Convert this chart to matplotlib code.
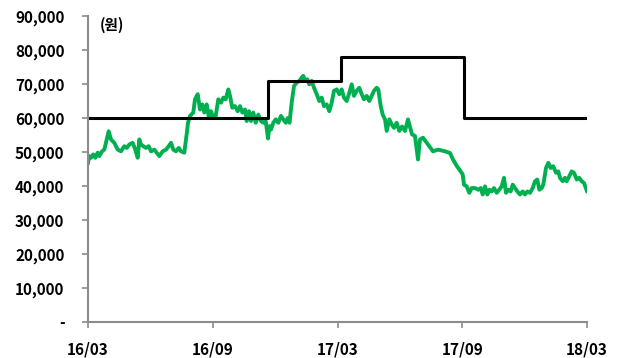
import matplotlib
matplotlib.use("Agg")
import matplotlib.pyplot as plt
from matplotlib.ticker import FuncFormatter

plt.rcParams['font.family'] = ['Noto Sans CJK KR', 'DejaVu Sans']

# time axis (pixel column of each reading; 124.75 px per 6 months, 16/03 at 88)
time_px = [88, 89.3, 91, 93.3, 95.3, 97.7, 99.3, 102, 104.3, 106.7, 108.7, 111, 114.3, 117.7, 121, 124.3, 126.7,
           129.3, 132.7, 135.3, 137.7, 139.3, 141, 143.3, 146, 148.7, 151, 154.3, 156.7, 159.3, 162.7, 166, 168.7,
           171, 173.3, 176, 178.7, 181, 184.3, 185.5, 187, 188, 190, 193.3, 195, 197.7, 200, 202.3, 204.3, 206.7,
           209, 211, 213.3, 215.7, 218.3, 221, 223.3, 225.7, 228.3, 230, 232.3, 235, 237.7, 240, 242.3, 245, 246.7,
           249, 251, 253.3, 255.7, 258.3, 261, 263.3, 265.7, 268, 269.5, 271, 273.3, 275.7, 278.3, 281, 283.3,
           285.7, 287.7, 289.5, 291.7, 294, 296.7, 299.3, 301.7, 303.3, 305, 307.3, 309.3, 311.7, 314, 316.7,
           319.3, 321.7, 324, 326.7, 329.3, 331.7, 334, 336.7, 339.3, 341.7, 344, 346.7, 349.3, 351.7, 354,
           356.7, 359.3, 361.7, 364, 366.7, 369.3, 371.7, 374, 376.7, 378.3, 380.7, 382.7, 385, 386.7, 389.3,
           391.7, 394, 396.7, 399.3, 402, 405, 408, 412, 415, 418, 420, 423, 428, 433, 438, 445, 450, 453, 457,
           459, 462.7, 464, 466.7, 469.3, 471.7, 475, 478.3, 480.7, 482.7, 485, 487.3, 489.3, 491.7, 494, 496.7,
           499.3, 501.7, 504, 506, 508.3, 510.7, 512.7, 515, 517.3, 520, 522.7, 525, 527.3, 530, 532.7, 535,
           537.3, 539.3, 541.7, 543.3, 546, 548.3, 550.7, 553.3, 556, 558.3, 560, 562.7, 565, 566.7, 569.3,
           571.7, 574, 576.7, 579.3, 581.7, 584, 587]
price_k = [46.8, 48.8, 48.3, 49.3, 48.3, 49.8, 48.8, 50.2, 50.7, 53.7, 56.1, 53.7, 52.7, 50.7, 50.2, 51.7, 51.2,
           52.2, 52.7, 50.7, 48.3, 53.7, 52.2, 51.7, 51.2, 51.7, 50.2, 50.7, 49.8, 48.8, 50.2, 50.7, 51.7,
           52.7, 50.7, 50.2, 51.2, 50.2, 49.8, 52.5, 56.0, 58.6, 60.6, 61.6, 65.5, 67.0, 62.5, 64.0, 61.6, 64.0,
           60.0, 62.0, 60.0, 60.6, 65.5, 64.5, 66.0, 65.5, 68.4, 66.5, 63.0, 63.5, 62.0, 63.5, 61.6, 62.5, 59.1,
           62.0, 59.1, 61.6, 58.6, 61.0, 59.1, 58.6, 59.1, 54.0, 57.6, 56.6, 58.6, 59.6, 58.6, 60.6, 59.6,
           58.6, 60.0, 58.6, 64.5, 69.4, 70.4, 70.9, 71.9, 72.4, 70.9, 71.4, 69.9, 70.9, 68.9, 67.0,
           65.0, 66.0, 63.5, 64.0, 62.0, 64.5, 68.0, 68.4, 67.0, 68.4, 66.0, 65.0, 67.4, 69.9, 66.5,
           68.0, 68.9, 67.0, 65.5, 66.5, 65.0, 66.5, 68.0, 68.9, 68.4, 63.5, 61.0, 59.6, 56.2, 59.6,
           58.1, 57.1, 58.6, 56.2, 57.5, 56.2, 59.6, 55.2, 54.7, 47.8, 53.7, 54.2, 52.2, 50.2, 50.7, 50.2, 49.7, 47.8, 45.8,
           45.0, 43.4, 40.4, 39.9, 38.0, 39.4, 39.4, 38.9, 39.4, 37.5, 39.9, 37.5, 38.9, 38.4, 39.4, 38.0,
           38.9, 39.9, 42.4, 38.0, 38.9, 38.4, 40.4, 39.4, 38.4, 37.5, 38.4, 37.5, 38.4, 38.0, 39.4, 41.4,
           41.9, 38.9, 39.4, 40.4, 45.3, 46.8, 45.3, 45.8, 43.9, 44.3, 42.4, 41.4, 42.4, 41.4, 42.9,
           44.3, 43.9, 41.9, 42.4, 41.4, 40.9, 38.5]

price_months = [(p - 88) / 124.75 * 6 for p in time_px]
price = [v * 1000 for v in price_k]

# target price steps
target_months = [0.0, 8.66, 8.66, 12.17, 12.17, 18.09, 18.09, 24.0]
target_values = [60000, 60000, 71000, 71000, 78000, 78000, 60000, 60000]

xtick_pos = [0, 6, 12, 18, 24]
xtick_labels = ['16/03', '16/09', '17/03', '17/09', '18/03']
yticks = list(range(0, 90001, 10000))
unit_label = '(원)'

fig = plt.figure(figsize=(6.24, 3.58), dpi=100)
ax = fig.add_axes([88 / 624, 36 / 358, (587 - 88) / 624, (322 - 16) / 358])

ax.plot(price_months, price, color='#00B050', lw=2.8, solid_joinstyle='round')
ax.plot(target_months, target_values, color='black', lw=2.2)

ax.set_xlim(0, 24)
ax.set_ylim(0, 90000)
ax.set_xticks(xtick_pos)
ax.set_xticklabels(xtick_labels)
ax.set_yticks(yticks)
ax.yaxis.set_major_formatter(FuncFormatter(lambda v, p: '-' if v == 0 else f'{int(v):,}'))

for s in ['top', 'right']:
    ax.spines[s].set_visible(False)
for s in ['left', 'bottom']:
    ax.spines[s].set_color('#8c8c8c')
    ax.spines[s].set_linewidth(1.5)
ax.tick_params(axis='both', colors='#8c8c8c', length=4, width=1.2)
ax.tick_params(axis='y', pad=13, labelsize=11, labelcolor='black')
ax.tick_params(axis='x', pad=10, labelsize=11, labelcolor='black')
for lab in ax.get_xticklabels() + ax.get_yticklabels():
    lab.set_fontweight('bold')

fig.text(100 / 624, 1 - 25 / 358, unit_label, fontsize=10.5, fontweight='bold', va='center', ha='left')

fig.savefig('out.png', dpi=100)
